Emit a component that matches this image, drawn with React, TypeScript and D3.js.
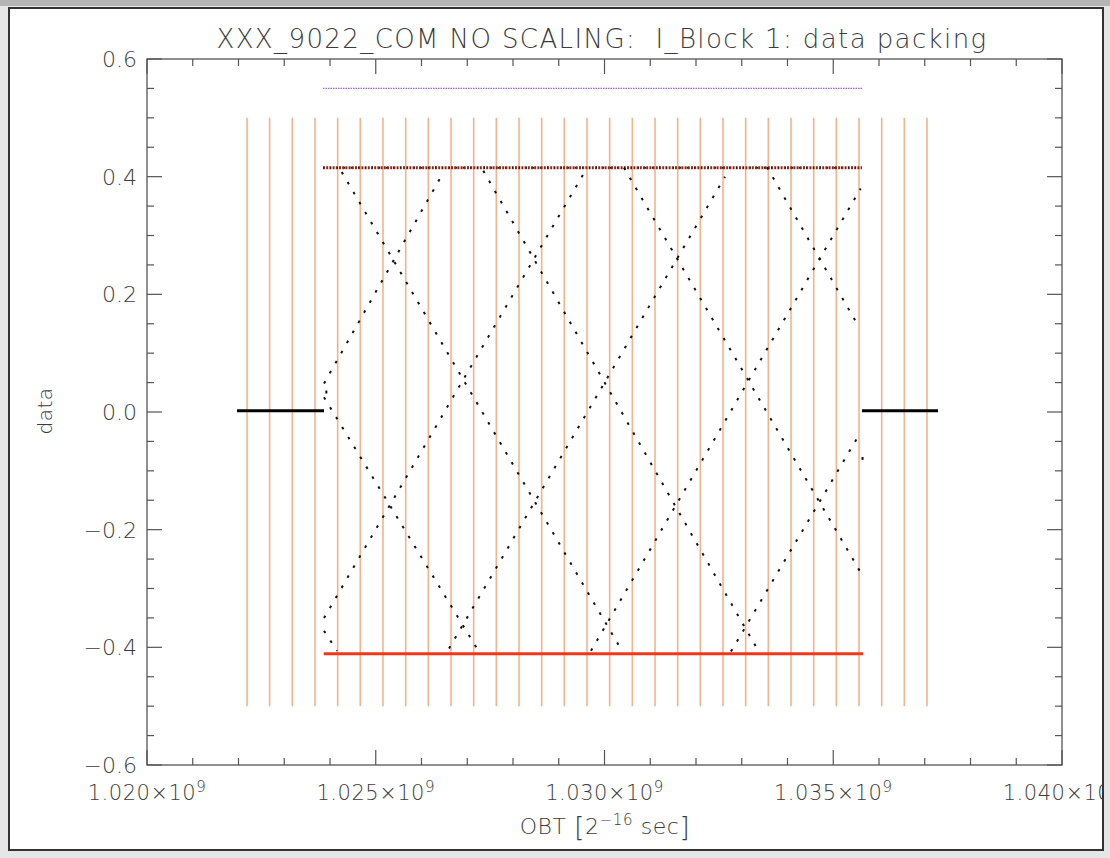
import React from "react";
import * as d3 from "d3";

// ---------- data (OBT in raw units, values in data units) ----------
const TITLE = "XXX_9022_COM NO SCALING:  I_Block 1: data packing";
const X_TICKS = [1.020e9, 1.025e9, 1.030e9, 1.035e9, 1.040e9];
const Y_TICKS = [-0.6, -0.4, -0.2, 0.0, 0.2, 0.4, 0.6];

// packet boundary markers (vertical orange lines), from -0.5 to 0.5
const packetX = [
  1022.186, 1022.680, 1023.176, 1023.672, 1024.168, 1024.662, 1025.158, 1025.655,
  1026.149, 1026.645, 1027.141, 1027.635, 1028.131, 1028.627, 1029.121, 1029.617,
  1030.113, 1030.608, 1031.104, 1031.600, 1032.094, 1032.590, 1033.086, 1033.580,
  1034.077, 1034.573, 1035.067, 1035.563, 1036.059, 1036.553, 1037.049,
].map((v) => v * 1e6);
const packetLo = -0.5;
const packetHi = 0.5;

// ramp segments of the packed samples: [x0, v0, x1, v1]
const rampDescA = [
  [1023.869, -0.372, 1024.153, -0.406],
  [1024.256, 0.408, 1030.323, -0.398],
  [1030.426, 0.415, 1035.585, -0.271],
];
const rampDescB = [
  [1023.869, 0.025, 1027.213, -0.402],
  [1027.351, 0.41, 1033.333, -0.402],
  [1033.552, 0.416, 1035.513, 0.151],
];
const rampAscA = [
  [1023.869, -0.35, 1029.537, 0.404],
  [1029.705, -0.406, 1035.6, 0.38],
];
const rampAscB = [
  [1023.869, 0.0485, 1026.463, 0.405],
  [1026.601, -0.402, 1032.634, 0.4],
  [1032.765, -0.407, 1035.534, -0.043],
];
const strayPoints = [
  [1035.64, -0.079],
  [1023.92, 0.034],
];

// constant levels
const zeroLeft = [1021.967, 1023.869];
const zeroRight = [1035.628, 1037.29];
const zeroLevel = 0.002;
const minLevel = -0.411;
const minRange = [1023.862, 1035.65];
const maxLevel = 0.415;
const maxRange = [1023.847, 1035.628];
const topLevel = 0.55;
const topRange = [1023.847, 1035.628];

// ---------- layout ----------
const W = 1110;
const H = 858;
const L = 147, R = 1062, T = 59, B = 765;

export default function App() {
  const x = d3.scaleLinear().domain([1.02e9, 1.04e9]).range([L, R]);
  const y = d3.scaleLinear().domain([-0.6, 0.6]).range([B, T]);
  const M = (v: number) => x(v * 1e6);

  const xMinor = d3.range(1020, 1040.001, 1).map((v) => v * 1e6);
  const yMinor = d3.range(-0.6, 0.6001, 0.05);

  const axisColor = "#555";
  const textColor = "#3c3c3c";
  const font = "'DejaVu Sans', Verdana, sans-serif";

  const segs = [...rampDescA, ...rampDescB, ...rampAscA, ...rampAscB];

  return (
    <svg
      width={W}
      height={H}
      style={{ position: "absolute", left: 0, top: 0, display: "block" }}
      fontFamily={font}
    >
      <defs>
        <clipPath id="win">
          <rect x={9} y={8} width={1094} height={842} />
        </clipPath>
      </defs>
      <rect x={0} y={0} width={W} height={H} fill="#e6e6e6" />
      <rect x={0} y={0} width={W} height={6} fill="#b4b4b4" />
      <rect x={9} y={8} width={1094} height={842} fill="#fff" />

      <g clipPath="url(#win)">
        {/* title */}
        <text x={602} y={48} textAnchor="middle" fontSize={26} fill={textColor} fontWeight={300}
          letterSpacing={1.4} style={{ whiteSpace: "pre" }}>
          {TITLE}
        </text>

        {/* packet markers */}
        {packetX.map((px, i) => (
          <line key={"p" + i} x1={x(px)} x2={x(px)} y1={y(packetLo)} y2={y(packetHi)}
            stroke="#f0b48c" strokeWidth={1.6} />
        ))}

        {/* purple top level */}
        <line x1={M(topRange[0])} x2={M(topRange[1])} y1={y(topLevel)} y2={y(topLevel)}
          stroke="#9a6ad6" strokeWidth={1.3} strokeDasharray="1.5 1" />

        {/* max level row */}
        <line x1={M(maxRange[0])} x2={M(maxRange[1])} y1={y(maxLevel)} y2={y(maxLevel)}
          stroke="#8a2a18" strokeWidth={3} strokeDasharray="2 1.2" />
        <line x1={M(maxRange[0])} x2={M(maxRange[1])} y1={y(maxLevel)} y2={y(maxLevel)}
          stroke="#222" strokeWidth={2} strokeDasharray="1 6" />

        {/* red min level */}
        <line x1={M(minRange[0])} x2={M(minRange[1])} y1={y(minLevel)} y2={y(minLevel)}
          stroke="#f2361a" strokeWidth={3} />

        {/* black zero levels */}
        <line x1={M(zeroLeft[0])} x2={M(zeroLeft[1])} y1={y(zeroLevel)} y2={y(zeroLevel)}
          stroke="#000" strokeWidth={3} />
        <line x1={M(zeroRight[0])} x2={M(zeroRight[1])} y1={y(zeroLevel)} y2={y(zeroLevel)}
          stroke="#000" strokeWidth={3} />

        {/* sample ramps as dotted runs */}
        {segs.map((s, i) => (
          <line key={"s" + i} x1={M(s[0])} y1={y(s[1])} x2={M(s[2])} y2={y(s[3])}
            stroke="#111" strokeWidth={2} strokeDasharray="2.6 9" />
        ))}
        {strayPoints.map((p, i) => (
          <rect key={"sp" + i} x={M(p[0]) - 1} y={y(p[1]) - 1.5} width={2} height={3} fill="#111" />
        ))}

        {/* axes frame */}
        <rect x={L} y={T} width={R - L} height={B - T} fill="none" stroke={axisColor} strokeWidth={1.3} />

        {/* x minor/major ticks bottom & top */}
        {xMinor.map((v, i) => {
          const major = Math.abs(((v / 1e6 - 1020) % 5)) < 1e-6;
          const len = major ? 15 : 7;
          return (
            <g key={"xt" + i}>
              <line x1={x(v)} x2={x(v)} y1={B} y2={B - len} stroke={axisColor} strokeWidth={1.2} />
              <line x1={x(v)} x2={x(v)} y1={T} y2={T + len} stroke={axisColor} strokeWidth={1.2} />
            </g>
          );
        })}
        {yMinor.map((v, i) => {
          const major = Math.abs(Math.round(v * 5) - v * 5) < 1e-6;
          const len = major ? 15 : 7;
          return (
            <g key={"yt" + i}>
              <line x1={L} x2={L + len} y1={y(v)} y2={y(v)} stroke={axisColor} strokeWidth={1.2} />
              <line x1={R} x2={R - len} y1={y(v)} y2={y(v)} stroke={axisColor} strokeWidth={1.2} />
            </g>
          );
        })}

        {/* x labels */}
        {X_TICKS.map((v, i) => (
          <text key={"xl" + i} x={x(v)} y={800} textAnchor="middle" fontSize={21} fill={textColor} fontWeight={300}
            letterSpacing={0.5}>
            {(v / 1e9).toFixed(3)}×10
            <tspan fontSize={15} dy={-8}>9</tspan>
          </text>
        ))}
        {/* y labels */}
        {Y_TICKS.map((v, i) => (
          <text key={"yl" + i} x={137} y={y(v) + 8} textAnchor="end" fontSize={22} fill={textColor} fontWeight={300}>
            {(v < 0 ? "\u2212" : "") + Math.abs(v).toFixed(1)}
          </text>
        ))}

        {/* axis titles */}
        <text x={605} y={834} textAnchor="middle" fontSize={22} fill={textColor} fontWeight={300}
          letterSpacing={0.6} style={{ whiteSpace: "pre" }}>
          {"OBT "}
          <tspan fontSize={26} dy={2}>[</tspan>
          <tspan dy={-2}>2</tspan>
          <tspan fontSize={15} dy={-9}>−16</tspan>
          <tspan dy={9}>{" sec"}</tspan>
          <tspan fontSize={26} dy={2}>]</tspan>
        </text>
        <text transform="translate(52,411) rotate(-90)" textAnchor="middle" fontSize={20} fill={textColor} fontWeight={300}
          letterSpacing={0.5}>
          data
        </text>
      </g>
      <rect x={9} y={8} width={1094} height={842} fill="none" stroke="#333" strokeWidth={2} />
    </svg>
  );
}
